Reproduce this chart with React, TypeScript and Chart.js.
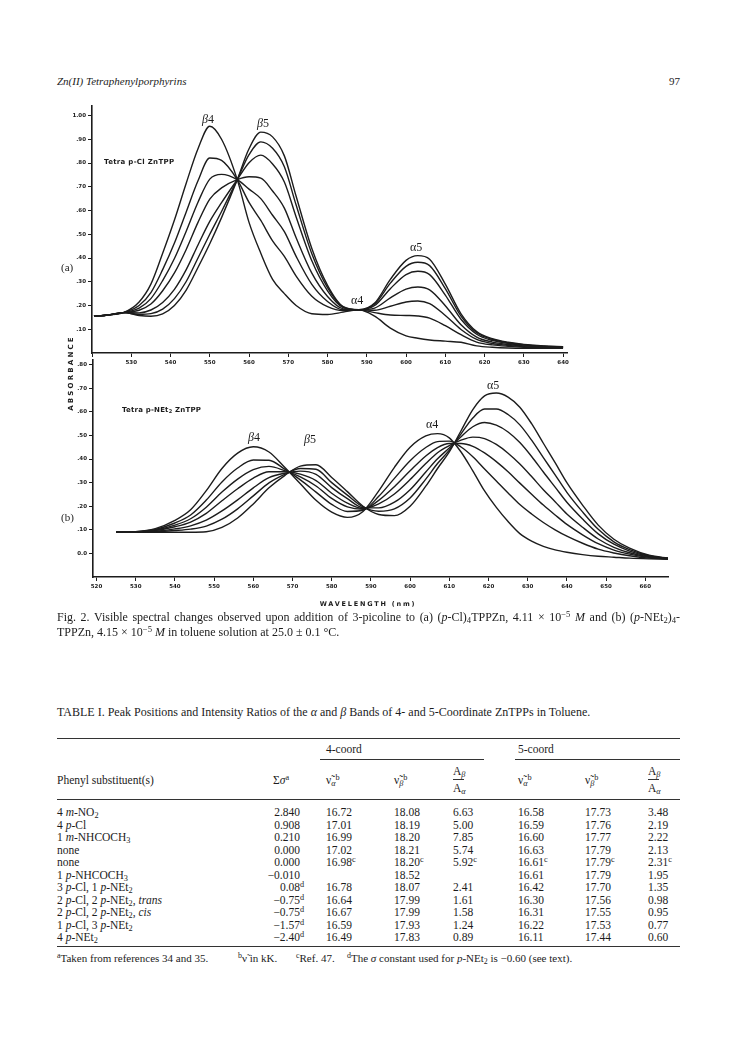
import React, { useEffect, useRef } from 'react';
import { Chart, registerables } from 'chart.js';

Chart.register(...registerables);

// ---------- Panel (a): Tetra p-Cl ZnTPP ----------
const WL_A = [520.5, 524, 528, 532, 535, 538, 541, 544, 547, 550, 553, 557, 560, 563, 566, 569, 572, 576, 580, 584, 588, 592, 596, 600, 603, 606, 610, 614, 618, 622, 626, 630, 635, 640];
const A_C1 = [0.155, 0.16, 0.17, 0.215, 0.29, 0.42, 0.56, 0.715, 0.86, 0.955, 0.9, 0.73, 0.55, 0.42, 0.31, 0.25, 0.2, 0.165, 0.162, 0.172, 0.182, 0.155, 0.105, 0.072, 0.062, 0.055, 0.05, 0.045, 0.03, 0.024, 0.021, 0.02, 0.02, 0.02];
const A_C2 = [0.155, 0.16, 0.17, 0.2, 0.254, 0.351, 0.463, 0.594, 0.725, 0.821, 0.811, 0.73, 0.634, 0.558, 0.472, 0.407, 0.324, 0.239, 0.195, 0.178, 0.182, 0.17, 0.16, 0.158, 0.156, 0.147, 0.115, 0.077, 0.046, 0.034, 0.028, 0.024, 0.023, 0.022];
const A_C3 = [0.155, 0.16, 0.17, 0.189, 0.229, 0.305, 0.398, 0.513, 0.635, 0.732, 0.752, 0.73, 0.69, 0.65, 0.58, 0.511, 0.407, 0.289, 0.217, 0.182, 0.182, 0.18, 0.197, 0.215, 0.219, 0.208, 0.158, 0.099, 0.057, 0.04, 0.032, 0.027, 0.025, 0.023];
const A_C4 = [0.155, 0.16, 0.17, 0.18, 0.206, 0.262, 0.337, 0.436, 0.55, 0.648, 0.695, 0.73, 0.742, 0.736, 0.682, 0.61, 0.485, 0.336, 0.238, 0.186, 0.182, 0.189, 0.232, 0.269, 0.278, 0.266, 0.199, 0.119, 0.067, 0.046, 0.036, 0.03, 0.026, 0.024];
const A_C5 = [0.155, 0.16, 0.17, 0.169, 0.181, 0.213, 0.268, 0.351, 0.455, 0.554, 0.633, 0.73, 0.801, 0.833, 0.796, 0.72, 0.573, 0.388, 0.262, 0.191, 0.182, 0.2, 0.271, 0.33, 0.344, 0.33, 0.244, 0.142, 0.079, 0.053, 0.04, 0.033, 0.028, 0.026];
const A_C6 = [0.155, 0.16, 0.17, 0.163, 0.166, 0.185, 0.229, 0.301, 0.4, 0.5, 0.596, 0.73, 0.835, 0.889, 0.862, 0.784, 0.623, 0.418, 0.275, 0.193, 0.182, 0.206, 0.294, 0.365, 0.382, 0.368, 0.271, 0.155, 0.085, 0.057, 0.043, 0.035, 0.029, 0.026];
const A_C7 = [0.155, 0.16, 0.17, 0.158, 0.155, 0.165, 0.2, 0.265, 0.36, 0.46, 0.57, 0.73, 0.86, 0.93, 0.91, 0.83, 0.66, 0.44, 0.285, 0.195, 0.182, 0.21, 0.31, 0.39, 0.41, 0.395, 0.29, 0.165, 0.09, 0.06, 0.045, 0.036, 0.03, 0.027];

const X_TICKS_A = [520, 530, 540, 550, 560, 570, 580, 590, 600, 610, 620, 630, 640];
const X_LABELS_A = ['', '530', '540', '550', '560', '570', '580', '590', '600', '610', '620', '630', '640'];
const Y_TICKS_A = [0.1, 0.2, 0.3, 0.4, 0.5, 0.6, 0.7, 0.8, 0.9, 1.0];
const Y_LABELS_A = ['.10', '.20', '.30', '.40', '.50', '.60', '.70', '.80', '.90', '1.00'];

// ---------- Panel (b): Tetra p-NEt2 ZnTPP ----------
const WL_B = [525, 530, 535, 540, 544, 548, 552, 556, 560, 564, 568, 572, 576, 580, 584, 588, 592, 596, 600, 604, 607, 610, 613, 616, 619, 622, 625, 628, 631, 634, 637, 640, 644, 648, 652, 656, 661, 666];
const B_C1 = [0.09, 0.092, 0.105, 0.14, 0.185, 0.266, 0.36, 0.425, 0.452, 0.43, 0.365, 0.295, 0.225, 0.175, 0.153, 0.178, 0.265, 0.365, 0.45, 0.498, 0.508, 0.49, 0.43, 0.35, 0.265, 0.195, 0.135, 0.084, 0.052, 0.03, 0.015, 0.005, -0.005, -0.012, -0.016, -0.02, -0.023, -0.025];
const B_C2 = [0.09, 0.092, 0.102, 0.129, 0.163, 0.226, 0.303, 0.362, 0.396, 0.395, 0.357, 0.312, 0.26, 0.208, 0.178, 0.183, 0.242, 0.318, 0.393, 0.449, 0.474, 0.476, 0.451, 0.41, 0.358, 0.307, 0.256, 0.207, 0.167, 0.131, 0.1, 0.073, 0.043, 0.018, 0.002, -0.01, -0.02, -0.024];
const B_C3 = [0.09, 0.091, 0.099, 0.12, 0.147, 0.196, 0.26, 0.315, 0.355, 0.369, 0.351, 0.325, 0.286, 0.233, 0.197, 0.187, 0.225, 0.283, 0.35, 0.413, 0.449, 0.466, 0.466, 0.454, 0.426, 0.389, 0.346, 0.298, 0.251, 0.205, 0.163, 0.123, 0.079, 0.041, 0.014, -0.003, -0.017, -0.023];
const B_C4 = [0.09, 0.091, 0.097, 0.113, 0.133, 0.17, 0.223, 0.274, 0.319, 0.346, 0.346, 0.336, 0.309, 0.255, 0.213, 0.19, 0.21, 0.252, 0.313, 0.381, 0.427, 0.457, 0.48, 0.493, 0.487, 0.462, 0.425, 0.379, 0.326, 0.27, 0.219, 0.167, 0.111, 0.061, 0.026, 0.003, -0.015, -0.022];
const B_C5 = [0.09, 0.091, 0.094, 0.104, 0.117, 0.141, 0.18, 0.227, 0.278, 0.321, 0.34, 0.349, 0.335, 0.279, 0.232, 0.194, 0.193, 0.217, 0.27, 0.345, 0.401, 0.447, 0.495, 0.537, 0.555, 0.544, 0.515, 0.47, 0.411, 0.345, 0.281, 0.217, 0.146, 0.083, 0.039, 0.01, -0.012, -0.021];
const B_C6 = [0.09, 0.09, 0.092, 0.097, 0.103, 0.116, 0.145, 0.189, 0.244, 0.299, 0.335, 0.36, 0.357, 0.3, 0.247, 0.197, 0.179, 0.189, 0.235, 0.315, 0.381, 0.438, 0.507, 0.574, 0.612, 0.612, 0.589, 0.545, 0.48, 0.406, 0.333, 0.259, 0.176, 0.102, 0.049, 0.016, -0.01, -0.021];
const B_C7 = [0.09, 0.09, 0.09, 0.09, 0.09, 0.092, 0.11, 0.15, 0.21, 0.278, 0.33, 0.37, 0.376, 0.322, 0.262, 0.2, 0.165, 0.16, 0.2, 0.285, 0.36, 0.43, 0.52, 0.61, 0.668, 0.68, 0.663, 0.62, 0.55, 0.467, 0.385, 0.3, 0.205, 0.12, 0.06, 0.022, -0.008, -0.02];

const X_TICKS_B = [520, 530, 540, 550, 560, 570, 580, 590, 600, 610, 620, 630, 640, 650, 660];
const X_LABELS_B = ['520', '530', '540', '550', '560', '570', '580', '590', '600', '610', '620', '630', '640', '650', '660'];
const Y_TICKS_B = [0, 0.1, 0.2, 0.3, 0.4, 0.5, 0.6, 0.7, 0.8];
const Y_LABELS_B = ['0.0', '.10', '.20', '.30', '.40', '.50', '.60', '.70', '.80'];

// ---------- Table I ----------
const SIGMA = ['2.840', '0.908', '0.210', '0.000', '0.000', '\u22120.010', '0.08', '\u22120.75', '\u22120.75', '\u22121.57', '\u22122.40'];
const SIGMA_NOTE = ['', '', '', '', '', '', 'd', 'd', 'd', 'd', 'd'];
const NU_A4 = ['16.72', '17.01', '16.99', '17.02', '16.98', '', '16.78', '16.64', '16.67', '16.59', '16.49'];
const NU_B4 = ['18.08', '18.19', '18.20', '18.21', '18.20', '18.52', '18.07', '17.99', '17.99', '17.93', '17.83'];
const RATIO4 = ['6.63', '5.00', '7.85', '5.74', '5.92', '', '2.41', '1.61', '1.58', '1.24', '0.89'];
const NU_A5 = ['16.58', '16.59', '16.60', '16.63', '16.61', '16.61', '16.42', '16.30', '16.31', '16.22', '16.11'];
const NU_B5 = ['17.73', '17.76', '17.77', '17.79', '17.79', '17.79', '17.70', '17.56', '17.55', '17.53', '17.44'];
const RATIO5 = ['3.48', '2.19', '2.22', '2.13', '2.31', '1.95', '1.35', '0.98', '0.95', '0.77', '0.60'];
const REF_ROW = 4;

const INK = '#1c1c1c';
const SERIF = '"Liberation Serif", "DejaVu Serif", serif';
const TICK_FONT = { family: '"DejaVu Sans", sans-serif', size: 5.5, weight: 'bold' as const };
const TB = 11.5;

function buildConfig(
  wl: number[], curves: number[][],
  xMin: number, xMax: number, yMin: number, yMax: number,
  xTicks: number[], xLabels: string[], yTicks: number[], yLabels: string[],
  yAxisWidth: number
): any {
  return {
    type: 'line',
    data: {
      datasets: curves.map((c) => ({
        data: wl.map((x, i) => ({ x, y: c[i] })),
        borderColor: INK,
        borderWidth: 1.4,
        pointRadius: 0,
        cubicInterpolationMode: 'monotone',
        fill: false,
      })),
    },
    options: {
      animation: false,
      responsive: false,
      maintainAspectRatio: false,
      layout: { padding: { top: 10, right: 12, left: 0, bottom: 0 } },
      plugins: { legend: { display: false }, tooltip: { enabled: false } },
      scales: {
        x: {
          type: 'linear', min: xMin, max: xMax,
          afterFit: (s: any) => { s.height = 22; },
          afterBuildTicks: (s: any) => { s.ticks = xTicks.map((v) => ({ value: v })); },
          ticks: { callback: (_v: any, i: number) => xLabels[i], font: TICK_FONT, color: INK, padding: 2, maxRotation: 0, autoSkip: false },
          grid: { drawOnChartArea: false, drawTicks: true, tickLength: 4, color: INK, lineWidth: 1 },
          border: { display: true, color: INK, width: 1.6 },
        },
        y: {
          type: 'linear', min: yMin, max: yMax,
          afterFit: (s: any) => { s.width = yAxisWidth; },
          afterBuildTicks: (s: any) => { s.ticks = yTicks.map((v) => ({ value: v })); },
          ticks: { callback: (_v: any, i: number) => yLabels[i], font: TICK_FONT, color: INK, padding: 2, autoSkip: false },
          grid: { drawOnChartArea: false, drawTicks: true, tickLength: 4, color: INK, lineWidth: 1 },
          border: { display: true, color: INK, width: 1.6 },
        },
      },
    },
  };
}

function ChartCanvas({ left, top, width, height, config }: any) {
  const ref = useRef<HTMLCanvasElement>(null);
  useEffect(() => {
    const chart = new Chart(ref.current as HTMLCanvasElement, config);
    return () => chart.destroy();
  }, []);
  return <canvas ref={ref} width={width} height={height} style={{ position: 'absolute', left, top, width, height }} />;
}

function T({ x, y, size = 11, style = {}, children }: any) {
  return (
    <div style={{ position: 'absolute', left: x, top: y - size * 0.6, fontSize: size, lineHeight: `${Math.round(size * 1.2)}px`, fontFamily: SERIF, color: INK, whiteSpace: 'nowrap', ...style }}>
      {children}
    </div>
  );
}

function Rule({ x1, x2, y, w = 1 }: any) {
  return <div style={{ position: 'absolute', left: x1, top: y, width: x2 - x1, height: w, background: '#333' }} />;
}

const I = ({ children }: any) => <i>{children}</i>;
const Sub = ({ children }: any) => <sub style={{ fontSize: '0.72em', verticalAlign: '-0.25em', lineHeight: 0 }}>{children}</sub>;
const Sup = ({ children }: any) => <sup style={{ fontSize: '0.72em', verticalAlign: '0.45em', lineHeight: 0 }}>{children}</sup>;

const NAMES = [
  <>4 <I>m</I>-NO<Sub>2</Sub></>,
  <>4 <I>p</I>-Cl</>,
  <>1 <I>m</I>-NHCOCH<Sub>3</Sub></>,
  <>none</>,
  <>none</>,
  <>1 <I>p</I>-NHCOCH<Sub>3</Sub></>,
  <>3 <I>p</I>-Cl, 1 <I>p</I>-NEt<Sub>2</Sub></>,
  <>2 <I>p</I>-Cl, 2 <I>p</I>-NEt<Sub>2</Sub>, <I>trans</I></>,
  <>2 <I>p</I>-Cl, 2 <I>p</I>-NEt<Sub>2</Sub>, <I>cis</I></>,
  <>1 <I>p</I>-Cl, 3 <I>p</I>-NEt<Sub>2</Sub></>,
  <>4 <I>p</I>-NEt<Sub>2</Sub></>,
];

const NU = '\u03BD\u0303';

function Frac({ x, y }: any) {
  return (
    <>
      <T x={x} y={y - 8} size={TB}>A<Sub><I>β</I></Sub></T>
      <Rule x1={x} x2={x + 11} y={y} w={0.8} />
      <T x={x} y={y + 9} size={TB}>A<Sub><I>α</I></Sub></T>
    </>
  );
}

export default function App() {
  const cfgA = buildConfig(WL_A, [A_C1, A_C2, A_C3, A_C4, A_C5, A_C6, A_C7], 520, 641, 0, 1.04,
    X_TICKS_A, X_LABELS_A, Y_TICKS_A, Y_LABELS_A, 52);
  const cfgB = buildConfig(WL_B, [B_C1, B_C2, B_C3, B_C4, B_C5, B_C6, B_C7], 519.1, 665.8, -0.1, 0.82,
    X_TICKS_B, X_LABELS_B, Y_TICKS_B, Y_LABELS_B, 53);

  const rowY = (i: number) => 812 + i * 12.5;
  const C = { sigR: 300, a4: 326, b4: 394, r4: 453, a5: 518, b5: 585, r5: 648 };
  const sans = { fontFamily: '"DejaVu Sans", sans-serif', fontWeight: 'bold' as const };
  const capStyle = { position: 'absolute' as const, left: 57, width: 623, fontFamily: SERIF, fontSize: 12, lineHeight: '15px', color: INK, whiteSpace: 'nowrap' as const };

  return (
    <div style={{ position: 'absolute', left: 0, top: 0, width: 737, height: 1056, background: '#fff', overflow: 'hidden' }}>
      <T x={57} y={82} style={{ fontStyle: 'italic' }}>Zn(II) Tetraphenylporphyrins</T>
      <T x={669} y={82}>97</T>

      <ChartCanvas left={40} top={96} width={539} height={279} config={cfgA} />
      <ChartCanvas left={40} top={350} width={640} height={249} config={cfgB} />

      <T x={104} y={162} size={7} style={{ ...sans, letterSpacing: 0.3 }}>Tetra p-Cl ZnTPP</T>
      <T x={122} y={410} size={7} style={{ ...sans, letterSpacing: 0.2 }}>Tetra p-NEt<Sub>2</Sub> ZnTPP</T>

      <T x={202} y={119} size={12}><I>β</I>4</T>
      <T x={257} y={123} size={12}><I>β</I>5</T>
      <T x={410} y={247} size={12}>α5</T>
      <T x={351} y={300} size={12}>α4</T>
      <T x={248} y={437} size={12}><I>β</I>4</T>
      <T x={304} y={439} size={12}><I>β</I>5</T>
      <T x={426} y={424} size={12}>α4</T>
      <T x={487} y={385} size={12}>α5</T>

      <T x={61} y={268}>(a)</T>
      <T x={61} y={518}>(b)</T>

      <div style={{ position: 'absolute', left: 71 - 45, top: 373 - 4, width: 90, height: 8, lineHeight: '8px', textAlign: 'center', fontSize: 7, color: INK, transform: 'rotate(-90deg)', letterSpacing: 2.2, ...sans }}>ABSORBANCE</div>
      <div style={{ position: 'absolute', left: 368 - 70, top: 600, width: 140, textAlign: 'center', fontSize: 6.5, color: INK, letterSpacing: 1.8, ...sans }}>WAVELENGTH (nm)</div>

      <div style={{ ...capStyle, top: 610, textAlign: 'justify', textAlignLast: 'justify' as any }}>
        Fig. 2. Visible spectral changes observed upon addition of 3-picoline to (a) (<I>p</I>-Cl)<Sub>4</Sub>TPPZn, 4.11 × 10<Sup>−5</Sup> <I>M</I> and (b) (<I>p</I>-NEt<Sub>2</Sub>)<Sub>4</Sub>-
      </div>
      <div style={{ ...capStyle, top: 625 }}>
        TPPZn, 4.15 × 10<Sup>−5</Sup> <I>M</I> in toluene solution at 25.0 ± 0.1 °C.
      </div>

      <T x={57} y={712} size={12}>TABLE I. Peak Positions and Intensity Ratios of the <I>α</I> and <I>β</I> Bands of 4- and 5-Coordinate ZnTPPs in Toluene.</T>

      <Rule x1={57} x2={680} y={738} w={1.2} />
      <T x={C.a4} y={749} size={TB}>4-coord</T>
      <T x={C.a5} y={749} size={TB}>5-coord</T>
      <Rule x1={C.a4 - 6} x2={484} y={759} w={1} />
      <Rule x1={C.a5 - 3} x2={680} y={759} w={1} />

      <T x={57} y={780} size={TB}>Phenyl substituent(s)</T>
      <T x={273} y={780} size={TB}>Σ<I>σ</I><Sup>a</Sup></T>
      <T x={C.a4} y={780} size={TB}>{NU}<Sub><I>α</I></Sub><Sup>b</Sup></T>
      <T x={C.b4} y={780} size={TB}>{NU}<Sub><I>β</I></Sub><Sup>b</Sup></T>
      <Frac x={C.r4} y={779} />
      <T x={C.a5} y={780} size={TB}>{NU}<Sub><I>α</I></Sub><Sup>b</Sup></T>
      <T x={C.b5} y={780} size={TB}>{NU}<Sub><I>β</I></Sub><Sup>b</Sup></T>
      <Frac x={C.r5} y={779} />
      <Rule x1={57} x2={680} y={799} w={1} />

      {NAMES.map((n, i) => (
        <React.Fragment key={i}>
          <T x={57} y={rowY(i)} size={TB}>{n}</T>
          <T x={C.sigR - 60} y={rowY(i)} size={TB} style={{ width: 60, textAlign: 'right' }}>{SIGMA[i]}</T>
          {SIGMA_NOTE[i] ? <T x={C.sigR} y={rowY(i)} size={TB}><Sup>{SIGMA_NOTE[i]}</Sup></T> : null}
          <T x={C.a4} y={rowY(i)} size={TB}>{NU_A4[i]}{i === REF_ROW ? <Sup>c</Sup> : null}</T>
          <T x={C.b4} y={rowY(i)} size={TB}>{NU_B4[i]}{i === REF_ROW ? <Sup>c</Sup> : null}</T>
          <T x={C.r4} y={rowY(i)} size={TB}>{RATIO4[i]}{i === REF_ROW ? <Sup>c</Sup> : null}</T>
          <T x={C.a5} y={rowY(i)} size={TB}>{NU_A5[i]}{i === REF_ROW ? <Sup>c</Sup> : null}</T>
          <T x={C.b5} y={rowY(i)} size={TB}>{NU_B5[i]}{i === REF_ROW ? <Sup>c</Sup> : null}</T>
          <T x={C.r5} y={rowY(i)} size={TB}>{RATIO5[i]}{i === REF_ROW ? <Sup>c</Sup> : null}</T>
        </React.Fragment>
      ))}

      <Rule x1={57} x2={680} y={946} w={1.2} />
      <T x={57} y={959}><Sup>a</Sup>Taken from references 34 and 35.</T>
      <T x={238} y={959}><Sup>b</Sup>{NU} in kK.</T>
      <T x={296} y={959}><Sup>c</Sup>Ref. 47.</T>
      <T x={347} y={959}><Sup>d</Sup>The <I>σ</I> constant used for <I>p</I>-NEt<Sub>2</Sub> is −0.60 (see text).</T>
    </div>
  );
}
